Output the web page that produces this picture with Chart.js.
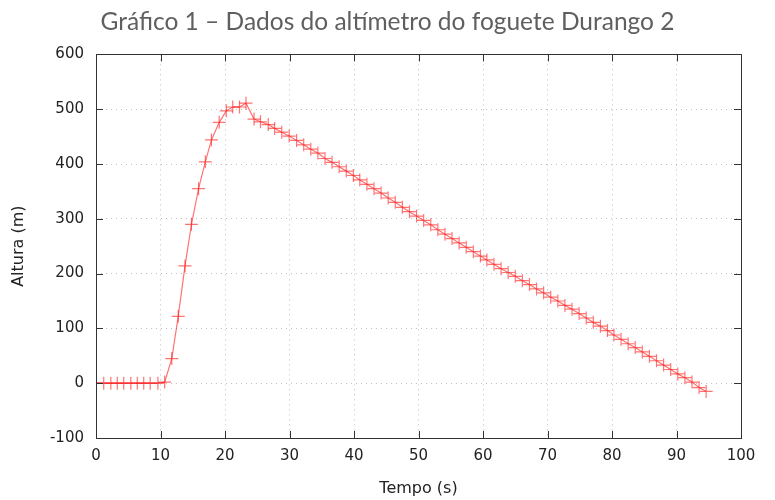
<!DOCTYPE html>
<html>
<head>
<meta charset="utf-8">
<script src="https://cdn.jsdelivr.net/npm/chart.js@4"></script>
<style>
  html, body { margin: 0; padding: 0; background: #fff; }
  #wrap { width: 775px; height: 500px; }
</style>
</head>
<body>
<div id="wrap"><canvas id="chartAltimetro"></canvas></div>
<script>
// tempo (s) de cada leitura do altímetro
const tempo = [
  0, 1.2, 2.3, 3.3, 4.3, 5.4, 6.4, 7.4, 8.4, 9.6,
  10.65, 11.75, 12.75, 13.8, 14.8, 15.9, 16.95, 17.9, 19.1, 20.2,
  21.2, 22.25, 23.25, 24.5, 25.5, 26.7, 27.7, 28.8, 29.95, 31.1,
  32.2, 33.3, 34.4, 35.5, 36.6, 37.7, 38.8, 39.9, 40.9, 42.0,
  43.1, 44.2, 45.3, 46.4, 47.5, 48.6, 49.7, 50.8, 51.9, 53.0,
  54.1, 55.2, 56.3, 57.4, 58.5, 59.6, 60.6, 61.7, 62.8, 63.9,
  65.0, 66.1, 67.2, 68.3, 69.4, 70.5, 71.6, 72.7, 73.8, 74.9,
  76.0, 77.1, 78.2, 79.3, 80.3, 81.4, 82.5, 83.6, 84.7, 85.8,
  86.9, 88.0, 89.1, 90.2, 91.3, 92.4, 93.5, 94.6
];

// altura (m)
const altura = [
  0, 0, 0, 0, 0, 0, 0, 0, 0, 0,
  2, 45, 122, 214, 290, 355, 404, 444, 476, 497,
  504, 504, 511, 482, 477, 472, 465, 458, 451, 443,
  435, 427, 420, 410, 403, 395, 387, 379, 371, 363,
  355, 347, 338, 330, 321, 313, 305, 297, 289, 280,
  272, 264, 256, 248, 240, 232, 225, 217, 209, 202,
  195, 187, 180, 172, 165, 157, 150, 142, 135, 127,
  119, 111, 104, 96, 88, 80, 72, 65, 57, 49,
  41, 33, 25, 17, 10, 2, -8, -15
];

const ticksX = [0, 10, 20, 30, 40, 50, 60, 70, 80, 90, 100];
const ticksY = [-100, 0, 100, 200, 300, 400, 500, 600];

const corLinha = "rgba(255, 0, 0, 0.55)";
const fonteEixo = "'DejaVu Sans', sans-serif";

// moldura e marcas internas (estilo gnuplot)
const moldura = {
  id: "moldura",
  afterDraw(chart) {
    const { ctx, chartArea: a, scales } = chart;
    const len = 7;
    ctx.save();
    ctx.strokeStyle = "#333";
    ctx.lineWidth = 1;
    ctx.beginPath();
    ticksX.forEach((v) => {
      const px = Math.round(scales.x.getPixelForValue(v)) + 0.5;
      ctx.moveTo(px, a.bottom);
      ctx.lineTo(px, a.bottom - len);
      ctx.moveTo(px, a.top);
      ctx.lineTo(px, a.top + len);
    });
    ticksY.forEach((v) => {
      const py = Math.round(scales.y.getPixelForValue(v)) + 0.5;
      ctx.moveTo(a.left, py);
      ctx.lineTo(a.left + len, py);
      ctx.moveTo(a.right, py);
      ctx.lineTo(a.right - len, py);
    });
    ctx.stroke();
    ctx.strokeRect(
      Math.round(a.left) + 0.5,
      Math.round(a.top) + 0.5,
      Math.round(a.right - a.left),
      Math.round(a.bottom - a.top)
    );
    ctx.restore();
  },
};

function main() {
  const ctx = document.getElementById("chartAltimetro").getContext("2d");
  new Chart(ctx, {
    type: "line",
    data: {
      datasets: [
        {
          label: "Altura",
          data: tempo.map((t, i) => ({ x: t, y: altura[i] })),
          borderColor: corLinha,
          backgroundColor: corLinha,
          borderWidth: 1.2,
          pointStyle: "cross",
          pointRadius: 6.5,
          pointBorderWidth: 1.2,
          pointBorderColor: corLinha,
          tension: 0,
          fill: false,
        },
      ],
    },
    options: {
      responsive: true,
      maintainAspectRatio: false,
      animation: false,
      layout: {
        padding: 0,
      },
      plugins: {
        legend: { display: false },
        tooltip: { enabled: false },
        title: {
          display: true,
          text: "Gráfico 1 – Dados do altímetro do foguete Durango 2",
          color: "#5f5f5f",
          font: { family: "Lato, 'Open Sans', sans-serif", size: 24.5, weight: "normal" },
          padding: { top: 7, bottom: 18 },
        },
      },
      scales: {
        x: {
          type: "linear",
          min: 0,
          max: 100,
          afterBuildTicks: (scale) => {
            scale.ticks = ticksX.map((v) => ({ value: v }));
          },
          afterFit: (scale) => {
            scale.height = 62;
          },
          ticks: {
            color: "#222",
            font: { family: fonteEixo, size: 15 },
            padding: 9,
            maxRotation: 0,
          },
          grid: {
            color: "rgba(0,0,0,0.25)",
            drawTicks: false,
          },
          border: { display: false, dash: [1, 4] },
          title: {
            display: true,
            text: "Tempo (s)",
            color: "#222",
            font: { family: fonteEixo, size: 16 },
            padding: { top: 4, bottom: 2 },
          },
        },
        y: {
          type: "linear",
          min: -100,
          max: 600,
          afterBuildTicks: (scale) => {
            scale.ticks = ticksY.map((v) => ({ value: v }));
          },
          afterFit: (scale) => {
            scale.width = 96;
          },
          ticks: {
            color: "#222",
            font: { family: fonteEixo, size: 15 },
            padding: 12,
          },
          grid: {
            color: "rgba(0,0,0,0.25)",
            drawTicks: false,
          },
          border: { display: false, dash: [1, 4] },
          title: {
            display: true,
            text: "Altura (m)",
            color: "#222",
            font: { family: fonteEixo, size: 16 },
            padding: { top: 9, bottom: 4 },
          },
        },
        // eixo vazio à direita, só para reservar a margem
        yDireita: {
          type: "linear",
          position: "right",
          min: -100,
          max: 600,
          afterFit: (scale) => {
            scale.width = 34;
          },
          ticks: { display: false },
          grid: { display: false },
          border: { display: false },
        },
      },
    },
    plugins: [moldura],
  });
}

main();
</script>
</body>
</html>
